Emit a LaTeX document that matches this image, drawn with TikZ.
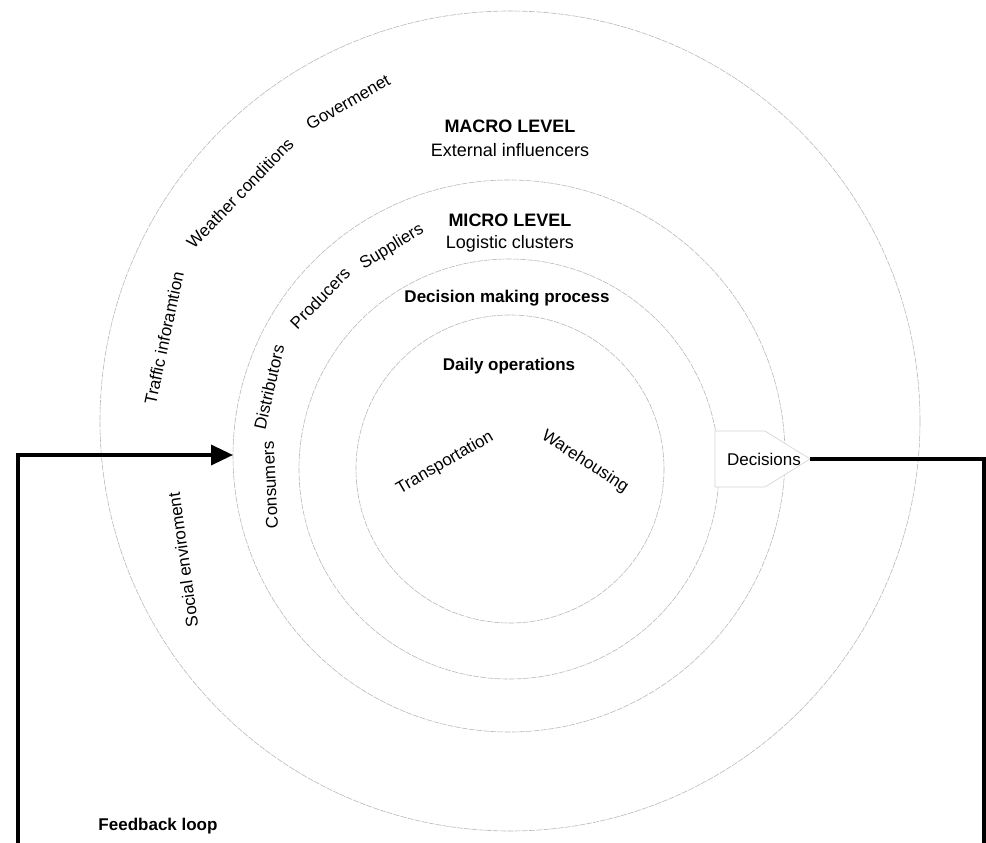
\documentclass[tikz,border=0pt]{standalone}
\usepackage{fontspec}
\setmainfont{Liberation Sans}
\usetikzlibrary{arrows.meta}
\begin{document}
\begin{tikzpicture}[x=1pt,y=-1pt,
  ring/.style={draw=gray!55, line width=0.6pt, dash pattern=on 6pt off 1.2pt},
  lab/.style={font=\fontsize{17}{20}\selectfont, inner sep=0pt},
  ttl/.style={font=\fontsize{18}{21}\selectfont\bfseries, inner sep=0pt},
  sub/.style={font=\fontsize{18}{21}\selectfont, inner sep=0pt},
  hd/.style={font=\fontsize{17}{20}\selectfont\bfseries, inner sep=0pt},
  fb/.style={line width=3.5pt, line join=miter},
  decshape/.style={draw=gray!35, line width=0.6pt, fill=white}]
\useasboundingbox (0,0) rectangle (986,843);
% rings
\draw[ring] (510,421) circle[radius=410];
\draw[ring] (509,456) circle[radius=276];
\draw[ring] (509,469) circle[radius=210];
\draw[ring] (510,469) circle[radius=154];
% titles
\node[ttl] (macro) at (510,126) {MACRO LEVEL};
\node[sub] (ext) at (510,150) {External influencers};
\node[ttl] (micro) at (510,220) {MICRO LEVEL};
\node[sub] (logc) at (510,244) {Logistic clusters};
\node[hd] (dmp) at (507,298) {Decision making process};
\node[hd] (daily) at (509,366) {Daily operations};
% macro factors
\node[lab, rotate=30] (gov) at (348,102) {Govermenet};
\node[lab, rotate=46] (weather) at (240,193) {Weather conditions};
\node[lab, rotate=78] (traffic) at (164,338) {Traffic inforamtion};
\node[lab, rotate=98] (social) at (183,560) {Social enviroment};
% micro actors
\node[lab, rotate=31] (supp) at (392,247) {Suppliers};
\node[lab, rotate=46] (prod) at (320,298) {Producers};
\node[lab, rotate=77] (dist) at (269,387) {Distributors};
\node[lab, rotate=93] (cons) at (270,485) {Consumers};
% operations
\node[lab, rotate=30] (trans) at (445,463) {Transportation};
\node[lab, rotate=-33] (ware) at (585,462) {Warehousing};
% decisions box (arrow-shaped) and feedback loop
\draw[decshape] (715,431) -- (765,431) -- (810,459) -- (765,487) -- (715,487) -- cycle;
\coordinate (dectip) at (810,459);
\node[lab] (dec) at (764,459) {Decisions};
\coordinate (rb) at (984,860);
\coordinate (lb) at (18,860);
\coordinate (entry) at (233,455);
\draw[fb, -{Triangle[length=22pt,width=20pt]}] (dectip) -| (rb) -- (lb) |- (entry);
\node[hd] (fbl) at (158,826) {Feedback loop};
\end{tikzpicture}
\end{document}
